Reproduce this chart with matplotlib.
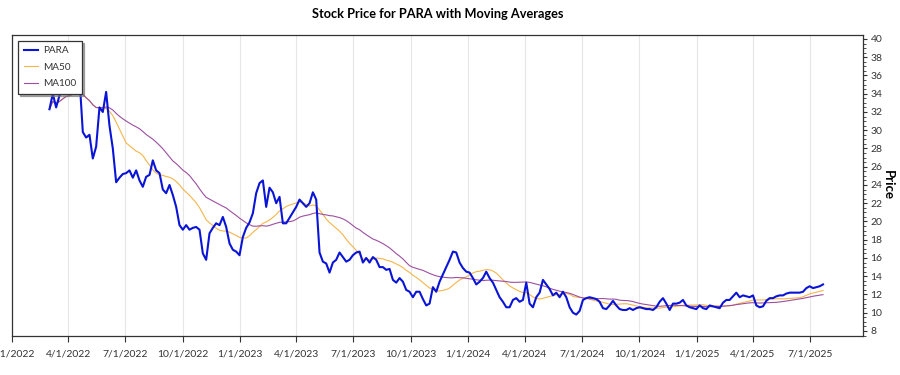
import matplotlib
matplotlib.use("Agg")
import matplotlib.pyplot as plt
import matplotlib.dates as mdates
from matplotlib.ticker import MultipleLocator, FuncFormatter
import pandas as pd

# ---- data ----
start_date = "2022-03-02"
end_date = "2025-07-22"
para_close = [
    32.3, 34.0, 32.5, 33.8, 34.6, 35.0, 34.2, 35.4, 36.1, 35.8,
    29.8, 29.2, 29.5, 26.9, 28.2, 32.5, 32.0, 34.2, 30.5, 28.0,
    24.3, 24.8, 25.2, 25.3, 25.6, 24.8, 25.6, 24.5, 23.8, 24.9,
    25.1, 26.7, 25.6, 25.3, 23.5, 23.1, 24.0, 22.9, 21.6, 19.6,
    19.1, 19.6, 19.1, 19.3, 19.4, 19.1, 16.5, 15.8, 18.7, 19.3,
    19.8, 19.6, 20.5, 19.4, 17.6, 16.9, 16.7, 16.3, 18.3, 19.3,
    19.9, 20.9, 23.1, 24.2, 24.5, 21.6, 23.7, 23.2, 22.0, 22.7,
    19.8, 19.8, 20.4, 21.0, 21.6, 22.4, 22.0, 21.6, 22.0, 23.2,
    22.4, 16.6, 15.6, 15.4, 14.4, 15.5, 15.8, 16.6, 16.1, 15.6,
    15.8, 16.3, 16.6, 16.7, 15.5, 16.0, 15.5, 16.1, 15.8, 15.0,
    15.0, 14.7, 14.8, 13.6, 13.3, 13.8, 13.4, 12.5, 12.3, 11.7,
    12.3, 12.3, 11.5, 10.8, 11.0, 12.8, 12.3, 13.4, 14.2, 15.0,
    15.8, 16.7, 16.6, 15.5, 14.9, 14.5, 14.4, 13.8, 13.1, 13.4,
    13.8, 14.5, 13.8, 13.3, 12.5, 11.7, 11.2, 10.6, 10.6, 11.4,
    11.6, 11.2, 11.4, 13.3, 11.0, 10.6, 11.7, 12.2, 13.6, 13.1,
    12.6, 11.9, 12.2, 11.7, 12.3, 11.7, 10.6, 10.0, 9.8, 10.2,
    11.4, 11.6, 11.7, 11.6, 11.5, 11.2, 10.5, 10.4, 10.8, 11.3,
    10.8, 10.4, 10.3, 10.3, 10.5, 10.3, 10.5, 10.6, 10.5, 10.4,
    10.4, 10.3, 10.6, 11.2, 11.6, 11.0, 10.3, 11.0, 11.0, 11.1,
    11.4, 10.8, 10.6, 10.5, 10.4, 10.8, 10.5, 10.4, 10.8, 10.7,
    10.6, 10.5, 11.1, 11.4, 11.4, 11.8, 12.2, 11.7, 11.9, 11.8,
    11.7, 11.9, 10.8, 10.6, 10.7, 11.3, 11.6, 11.6, 11.8, 11.9,
    11.9, 12.1, 12.2, 12.2, 12.2, 12.2, 12.3, 12.7, 12.9, 12.7,
    12.8, 12.9, 13.1,
]
series_names = ["PARA", "MA50", "MA100"]
xtick_dates = pd.date_range("2022-01-01", "2025-07-01", freq="QS")
ytick_values = list(range(8, 41, 2))

dates = pd.date_range(start_date, end_date, periods=len(para_close))
s = pd.Series(para_close, index=dates)
ma50 = s.rolling("73D", min_periods=1).mean()
ma100 = s.rolling("145D", min_periods=1).mean()

# ---- plot ----
plt.rcParams["font.family"] = ["Lato", "DejaVu Sans"]
fig = plt.figure(figsize=(9, 3.75), dpi=100)
ax = fig.add_axes([0.0133, 0.104, 0.9456, 0.803])

ax.plot(s.index, s.values, color="#0a14d6", lw=1.5, label=series_names[0], zorder=3)
ax.plot(ma50.index, ma50.values, color="#f5b54a", lw=0.8, label=series_names[1], zorder=2)
ax.plot(ma100.index, ma100.values, color="#9c4fa0", lw=0.8, label=series_names[2], zorder=2)

ax.set_xlim(pd.Timestamp("2022-01-01"), pd.Timestamp("2025-09-24"))
ax.set_ylim(7.45, 40.45)

ax.set_xticks(xtick_dates)
ax.xaxis.set_major_formatter(FuncFormatter(
    lambda v, p: (lambda d: f"{d.month}/{d.day}/{d.year}")(mdates.num2date(v))))
ax.grid(axis="x", color="#e6e6e6", lw=0.8)
ax.grid(axis="y", visible=False)

ax.yaxis.tick_right()
ax.set_yticks(ytick_values)
ax.yaxis.set_minor_locator(MultipleLocator(0.5))
ax.set_ylabel("Price", rotation=270, fontsize=9.5, fontweight="bold",
              ha="center", va="center")
ax.yaxis.set_label_position("right")
ax.yaxis.set_label_coords(1.036, 0.5)

ax.tick_params(axis="x", labelsize=7.5, colors="#333333", length=4, pad=6)
ax.tick_params(axis="y", which="major", labelsize=7.5, colors="#333333", length=3, pad=2.5)
ax.tick_params(axis="y", which="minor", length=2, color="#333333")

for sp in ax.spines.values():
    sp.set_color("#333333")
    sp.set_linewidth(0.9)

ax.set_title("Stock Price for PARA with Moving Averages", fontsize=9.2,
             fontweight="bold", pad=12)

leg = ax.legend(loc="upper left", fancybox=False,
                shadow={"ox": 1.5, "oy": -1.5, "color": "0.45", "alpha": 0.6},
                fontsize=7.2, frameon=True, borderpad=0.55, handlelength=1.4,
                handletextpad=0.55, labelspacing=0.75, borderaxespad=0.3,
                bbox_to_anchor=(0.004, 0.99))
leg.get_frame().set_edgecolor("#333333")
leg.get_frame().set_linewidth(0.9)
for t in leg.get_texts():
    t.set_color("#333333")

fig.savefig("out.png", dpi=100)
